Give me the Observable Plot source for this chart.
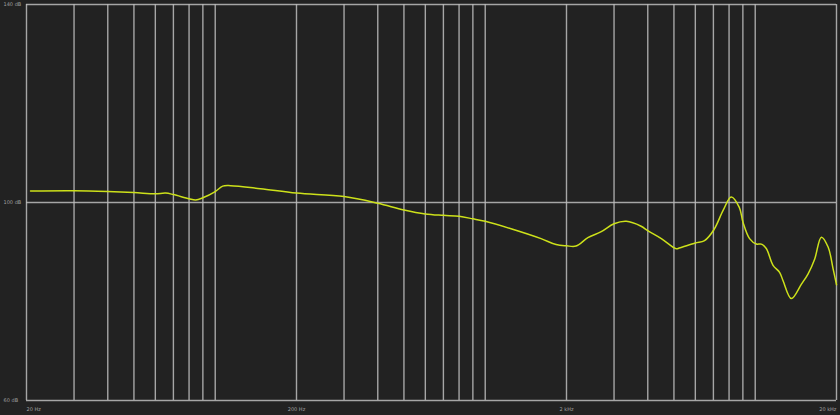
<!DOCTYPE html>
<html>
<head>
<meta charset="utf-8">
<script src="https://cdn.jsdelivr.net/npm/d3@7"></script>
<script src="https://cdn.jsdelivr.net/npm/@observablehq/plot@0.6"></script>
<style>
  html, body { margin: 0; padding: 0; background: #222222; }
  #chart svg { display: block; }
</style>
</head>
<body>
<div id="chart"></div>
<script>
const freqs = [20.7, 30, 40, 50, 60, 65.5, 70, 80, 84.7, 90, 100, 106.6, 114, 147, 200, 300, 400, 500, 600, 700, 800, 900, 1000, 1246, 1610, 1830, 2000, 2170, 2400, 2690, 3000, 3330, 3780, 4000, 4490, 5100, 5230, 6000, 6490, 7030, 7620, 8150, 8730, 9010, 9530, 10100, 10530, 10990, 11640, 12310, 12680, 13610, 14830, 15700, 16610, 17580, 18620, 19430, 20000];
const levels = [102.3, 102.35, 102.2, 102.0, 101.75, 101.9, 101.6, 100.75, 100.5, 100.95, 102.2, 103.3, 103.4, 102.8, 101.9, 101.2, 99.85, 98.5, 97.7, 97.4, 97.2, 96.7, 96.2, 94.7, 92.7, 91.5, 91.25, 91.2, 92.9, 94.1, 95.7, 96.2, 95.2, 94.3, 92.7, 90.65, 90.8, 91.8, 92.3, 94.5, 98.5, 101.1, 99.0, 96.0, 92.7, 91.6, 91.6, 90.7, 87.3, 85.9, 84.2, 80.6, 83.5, 85.6, 88.6, 93.0, 91.0, 86.6, 83.4];

const gridFreqs = [20, 30, 40, 50, 60, 70, 80, 90, 100, 200, 300, 400, 500, 600, 700, 800, 900, 1000, 2000, 3000, 4000, 5000, 6000, 7000, 8000, 9000, 10000, 20000];
const gridLevels = [60, 100, 140];
const xTickFreqs = [20, 200, 2000, 20000];
const xTickLabels = ["20 Hz", "200 Hz", "2 kHz", "20 kHz"];
const yTickLabels = ["60 dB", "100 dB", "140 dB"];

const data = freqs.map((f, i) => ({f, db: levels[i]}));
const xTicks = xTickFreqs.map((f, i) => ({f, label: xTickLabels[i]}));
const yTicks = gridLevels.map((v, i) => ({v, label: yTickLabels[i]}));

const gridColor = "#bdbdbd";
const textStyle = {fill: "#a0a0a0", fontSize: 5, fontFamily: "DejaVu Sans"};

const chart = Plot.plot({
  width: 840,
  height: 415,
  marginLeft: 26,
  marginRight: 4,
  marginTop: 4,
  marginBottom: 15,
  style: {background: "#222222", overflow: "visible"},
  x: {type: "log", domain: [20, 20000], axis: null},
  y: {domain: [60, 140], axis: null},
  marks: [
    Plot.ruleX(gridFreqs, {x: d => d, stroke: gridColor, strokeWidth: 1.4, strokeOpacity: 0.85}),
    Plot.ruleY(gridLevels, {y: d => d, stroke: gridColor, strokeWidth: 1.4, strokeOpacity: 0.85}),
    Plot.line(data, {x: "f", y: "db", stroke: "#cde11a", strokeWidth: 1.5, curve: "catmull-rom"}),
    Plot.text(yTicks, {y: "v", text: "label", frameAnchor: "left", dx: -23, textAnchor: "start", ...textStyle}),
    Plot.text(xTicks.slice(0, 1), {x: "f", text: "label", frameAnchor: "bottom", dy: 10, textAnchor: "start", ...textStyle}),
    Plot.text(xTicks.slice(1, 3), {x: "f", text: "label", frameAnchor: "bottom", dy: 10, textAnchor: "middle", ...textStyle}),
    Plot.text(xTicks.slice(3), {x: "f", text: "label", frameAnchor: "bottom", dy: 10, textAnchor: "end", ...textStyle})
  ]
});
document.getElementById("chart").append(chart);
</script>
</body>
</html>
